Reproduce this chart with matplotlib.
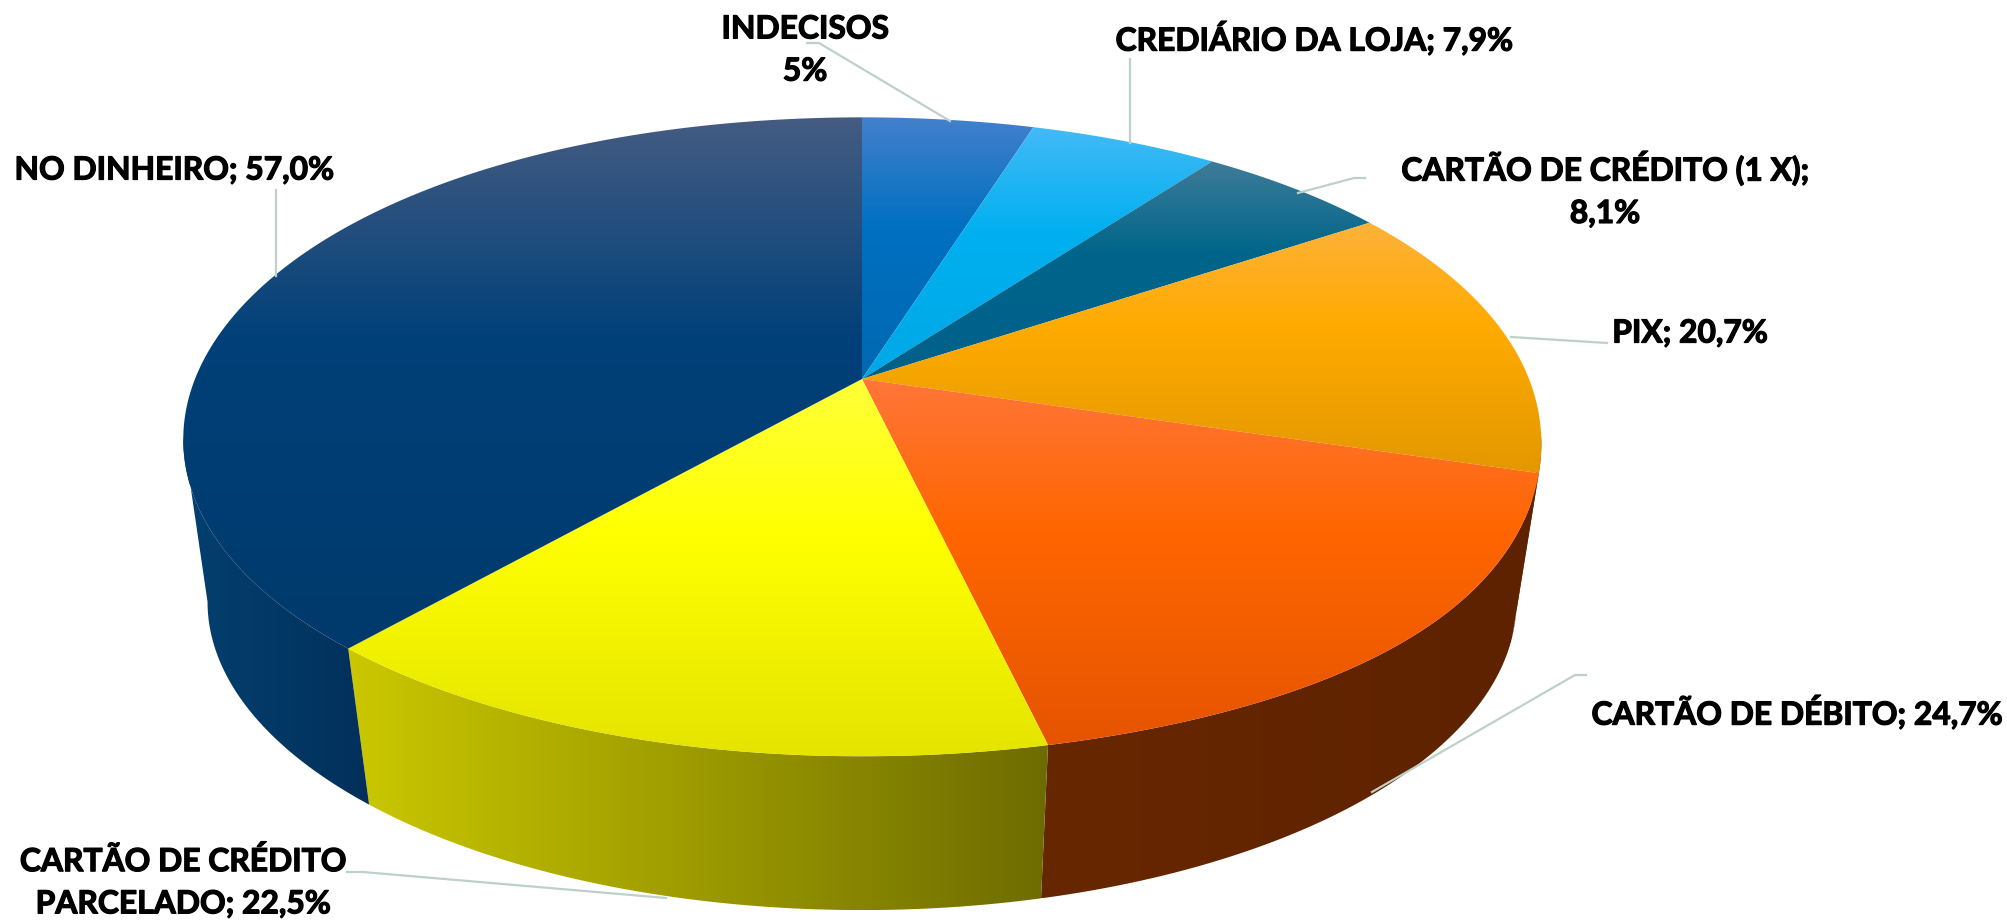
import numpy as np
import matplotlib
matplotlib.use("Agg")
import matplotlib.pyplot as plt
import matplotlib.patheffects as pe
from matplotlib.colors import LinearSegmentedColormap
from matplotlib.patches import Polygon

# ---- data ----
categories = ["INDECISOS", "CREDIÁRIO DA LOJA", "CARTÃO DE CRÉDITO (1 X)", "PIX",
              "CARTÃO DE DÉBITO", "CARTÃO DE CRÉDITO PARCELADO", "NO DINHEIRO"]
slice_sizes = [7.2, 7.9, 8.1, 20.7, 24.7, 22.5, 57.0]   # sizes as drawn by the wedges
label_texts = ["INDECISOS\n5%", "CREDIÁRIO DA LOJA; 7,9%", "CARTÃO DE CRÉDITO (1 X);\n8,1%",
               "PIX; 20,7%", "CARTÃO DE DÉBITO; 24,7%", "CARTÃO DE CRÉDITO\nPARCELADO; 22,5%",
               "NO DINHEIRO; 57,0%"]

# ---- style ----
top_light = ["#4380CC", "#43BAF6", "#3F7C98", "#FDB23A", "#FF7639", "#FFFF3A", "#455C82"]
top_base = ["#0070C0", "#00B0F0", "#00658A", "#FFAB00", "#FF6600", "#FFFF00", "#004078"]
top_dark = ["#0068B2", "#00A8E6", "#00608A", "#E29800", "#E65400", "#E4E400", "#003A6C"]
side_left = ["#0060A0", "#0090C8", "#004A66", "#5A3C00", "#672700", "#CBC800", "#034070"]
side_right = ["#0060A0", "#0090C8", "#004A66", "#5A3C00", "#5E2200", "#6E6C00", "#02305A"]

label_pos = [(805, 50), (1314, 38), (1605, 189), (1690, 333), (1797, 712), (183, 882), (174, 170)]
leaders = [
    [(807, 43), (819, 43), (950, 121)],
    [(1130, 59), (1130, 143)],
    [(1365, 178), (1354, 178), (1298, 193)],
    [(1511, 337), (1607, 343)],
    [(1586, 675), (1575, 675), (1372, 792)],
    [(347, 872), (363, 872), (666, 898)],
    [(276, 190), (276, 276)],
]

CX, CY = 862.0, 379.0      # projected pie centre, px
A, B, K = 667.0, 309.0, 0.181   # perspective ellipse
BOT_SCALE, BOT_CY = 0.965, 546.0
TANGENT = np.degrees(np.arccos(-K))    # silhouette angle


def plain_xy(theta_deg):
    t = np.radians(np.asarray(theta_deg, dtype=float))
    w = 1 + K * np.cos(t)
    return A * np.sin(t) / w, -B * np.cos(t) / w


def top_xy(theta_deg):
    x, y = plain_xy(theta_deg)
    th = np.asarray(theta_deg, dtype=float)
    t = np.radians(th)
    # the rendered top rim is slightly fuller than a true ellipse, mostly lower right
    r = 1 + (0.006 + 0.016 * np.exp(-((th - 135.0) / 35.0) ** 2)) * np.sin(2 * t) ** 2
    return CX + r * x, CY + r * y


def bot_xy(theta_deg):
    x, y = plain_xy(theta_deg)
    return CX + BOT_SCALE * x, BOT_CY + BOT_SCALE * y


fig = plt.figure(figsize=(20.08, 9.22), dpi=100, facecolor="white")
ax = fig.add_axes([0, 0, 1, 1])
ax.set_axis_off()


def gradient_fill(pts, stops, vertical=True, z=1):
    pts = np.asarray(pts)
    cmap = LinearSegmentedColormap.from_list("g", stops, N=512)
    ramp = np.linspace(0, 1, 512)
    arr = ramp[:, None] if vertical else ramp[None, :]
    x0, x1 = pts[:, 0].min(), pts[:, 0].max()
    y0, y1 = pts[:, 1].min(), pts[:, 1].max()
    im = ax.imshow(arr, cmap=cmap, vmin=0, vmax=1, extent=[x0, x1, y1, y0], origin="upper",
                   aspect="auto", interpolation="bilinear", zorder=z)
    im.set_clip_path(Polygon(pts, closed=True, transform=ax.transData))
    return im


edges = np.concatenate([[0.0], np.cumsum(slice_sizes)]) / np.sum(slice_sizes) * 360.0

# side walls
for i in range(len(slice_sizes)):
    a = max(edges[i], TANGENT)
    b = min(edges[i + 1], 360 - TANGENT)
    if b <= a:
        continue
    th = np.linspace(a, b, 120)
    tx, ty = top_xy(th)
    bx, by = bot_xy(th)
    pts = np.column_stack([np.r_[tx, bx[::-1]], np.r_[ty, by[::-1]]])
    gradient_fill(pts, [side_left[i], side_right[i]], vertical=False, z=1)

# top faces
for i in range(len(slice_sizes)):
    th = np.linspace(edges[i], edges[i + 1], 240)
    tx, ty = top_xy(th)
    pts = np.column_stack([np.r_[CX, tx], np.r_[CY, ty]])
    gradient_fill(pts, [(0, top_light[i]), (0.42, top_base[i]), (1, top_dark[i])], z=2)

# leader lines
for line in leaders:
    xs, ys = zip(*line)
    ax.plot(xs, ys, color="#BDD1C9", lw=1.6, solid_joinstyle="miter", zorder=3)

# labels
for text, (x, y) in zip(label_texts, label_pos):
    t = ax.text(x, y, text, ha="center", va="center", fontsize=22.9, fontweight="bold",
                family="Lato", color="black", linespacing=1.55, zorder=4)
    t.set_path_effects([pe.withStroke(linewidth=0.9, foreground="black")])

ax.set_xlim(0, 2008)
ax.set_ylim(922, 0)
fig.savefig("out.png", dpi=100, facecolor="white")
